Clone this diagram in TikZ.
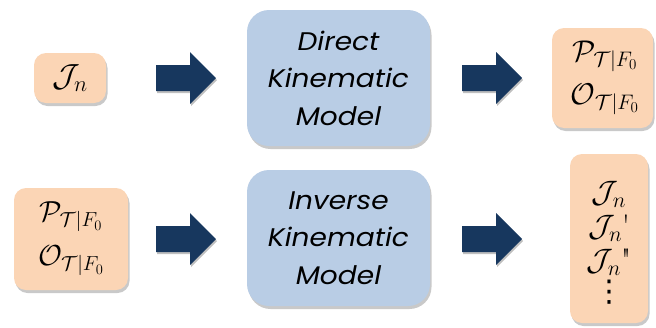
\RequirePackage{fix-cm}
\documentclass[tikz,border=0pt]{standalone}
\usepackage{fontspec}
\newfontfamily\boxfont[FakeStretch=1.1]{Poppins}
\newfontfamily\dejavu{DejaVu Sans}
\usetikzlibrary{shadows,calc}
\definecolor{peach}{HTML}{FBD5B5}
\definecolor{paleblue}{HTML}{B9CDE5}
\definecolor{navy}{HTML}{17375E}
\tikzset{
  shadowed/.style={drop shadow={shadow xshift=1.5pt,shadow yshift=-3pt,opacity=0.3,fill=black!70}},
  peachbox/.style={fill=peach,rounded corners=12pt,shadowed,align=center,inner sep=0pt},
  modelbox/.style={fill=paleblue,rounded corners=22pt,shadowed,align=center,inner sep=0pt,
     minimum width=183pt,minimum height=136pt,font=\boxfont\itshape\fontsize{25.5}{37.5}\selectfont},
  arrowfill/.style={fill=navy,drop shadow={shadow xshift=1pt,shadow yshift=-2pt,opacity=0.25,fill=black}},
}
\newcommand\blockarrow[1]{%
  \path[arrowfill] ($(#1)+(-30,-13)$) -- ($(#1)+(4,-13)$) -- ($(#1)+(4,-26)$) -- ($(#1)+(30,0)$)
     -- ($(#1)+(4,26)$) -- ($(#1)+(4,13)$) -- ($(#1)+(-30,13)$) -- cycle;}
\begin{document}
\begin{tikzpicture}[x=1pt,y=-1pt]
\useasboundingbox (0,0) rectangle (656,327);
% top row
\node[peachbox,minimum width=72pt,minimum height=50pt,font=\fontsize{32}{35}\selectfont] (jn) at (70,78) {$\mathcal{J}_n$};
\node[modelbox] (dkm) at (338.5,78) {Direct\\Kinematic\\Model};
\node[peachbox,minimum width=101pt,minimum height=100pt,font=\fontsize{30}{43}\selectfont,text width=101pt] (pose1) at (602.5,78) {\hspace*{5pt}$\mathcal{P}_{\mathcal{T}|F_0}$\\\hspace*{5pt}$\mathcal{O}_{\mathcal{T}|F_0}$};
% bottom row
\node[peachbox,minimum width=114pt,minimum height=102pt,font=\fontsize{29}{44}\selectfont] (pose2) at (71,239) {$\mathcal{P}_{\mathcal{T}|F_0}$\\$\mathcal{O}_{\mathcal{T}|F_0}$};
\node[modelbox] (ikm) at (338.5,238) {Inverse\\Kinematic\\Model};
\node[peachbox,minimum width=78pt,minimum height=169pt,font=\fontsize{31}{34}\selectfont] (jlist) at (609,238.5) {\\[-4pt]$\mathcal{J}_n$\\$\mathcal{J}_n$\textquotesingle\\$\mathcal{J}_n$\textquotedbl\\[-3pt]{\dejavu\fontsize{30}{30}\selectfont ⋮}};
% arrows
\coordinate (a1) at (186,78);
\coordinate (a2) at (492,78);
\coordinate (a3) at (186,239);
\coordinate (a4) at (492,239);
\blockarrow{a1}
\blockarrow{a2}
\blockarrow{a3}
\blockarrow{a4}
\end{tikzpicture}
\end{document}
